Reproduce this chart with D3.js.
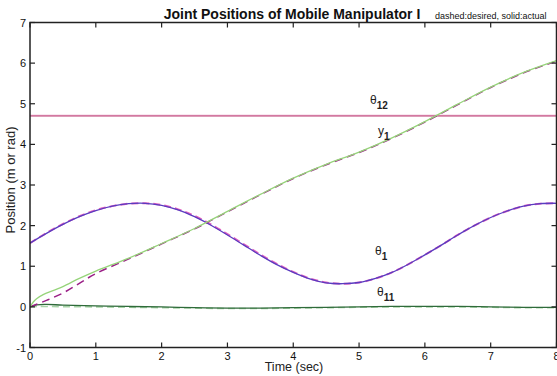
<!DOCTYPE html>
<html><head><meta charset="utf-8">
<script src="https://cdn.jsdelivr.net/npm/d3@7/dist/d3.min.js"></script>
<style>body{margin:0;background:#fff;}svg{display:block;font-family:"Liberation Sans",Arial,sans-serif;}</style>
</head><body>
<script>
const xTicks = [0,1,2,3,4,5,6,7,8];
const yTicks = [-1,0,1,2,3,4,5,6,7];

const tTheta1 = [0,0.25,0.5,0.75,1,1.25,1.5,1.75,2,2.25,2.5,2.75,3,3.25,3.5,3.75,4,4.25,4.5,4.75,5,5.25,5.5,5.75,6,6.25,6.5,6.75,7,7.25,7.5,7.75,8];
const theta1Des = [1.57,1.82,2.04,2.23,2.38,2.48,2.54,2.55,2.51,2.40,2.24,2.03,1.79,1.54,1.29,1.06,0.86,0.70,0.60,0.57,0.60,0.70,0.85,1.05,1.28,1.52,1.77,2.00,2.20,2.36,2.48,2.54,2.55];
const theta1Act = [1.57,1.81,2.03,2.22,2.37,2.48,2.54,2.55,2.50,2.39,2.22,2.01,1.77,1.52,1.27,1.04,0.85,0.69,0.59,0.57,0.60,0.70,0.85,1.05,1.28,1.52,1.77,2.00,2.20,2.36,2.48,2.54,2.55];

const tY1Des = [0,0.25,0.5,0.75,1,1.5,2,2.5,3,3.5,4,4.5,5,5.5,6,6.5,7,7.5,8];
const y1Des = [0,0.16,0.34,0.58,0.82,1.18,1.55,1.92,2.34,2.76,3.16,3.50,3.80,4.15,4.55,4.98,5.40,5.76,6.05];
const tY1Act = [0,0.05,0.1,0.2,0.35,0.5,0.75,1,1.5,2,2.5,3,3.5,4,4.5,5,5.5,6,6.5,7,7.5,8];
const y1Act = [0,0.12,0.2,0.3,0.4,0.5,0.7,0.88,1.2,1.56,1.93,2.35,2.77,3.17,3.51,3.81,4.16,4.56,4.99,5.41,5.77,6.06];

const tTheta11 = [0,0.1,0.25,0.5,1,1.5,2,2.5,3,3.5,4,4.5,5,5.5,6,6.5,7,7.5,8];
const theta11Act = [0,0.05,0.06,0.045,0.025,0.01,0,-0.02,-0.03,-0.03,-0.02,-0.01,0,0.01,0.01,0.01,0,-0.01,-0.01];
const theta11Des = [0,0.01,0.01,0.005,0,-0.01,-0.02,-0.03,-0.04,-0.04,-0.03,-0.02,-0.01,0,0,0,-0.01,-0.02,-0.02];

const tTheta12 = [0,8];
const theta12Des = [4.71,4.71];
const theta12Act = [4.70,4.70];

const W = 557, H = 376;
const svg = d3.select("body").append("svg").attr("width",W).attr("height",H);
const L = 30, R = 556.5, T = 22.5, B = 347.5;
const x = d3.scaleLinear().domain([0,8]).range([L,R]);
const y = d3.scaleLinear().domain([-1,7]).range([B,T]);

svg.append("defs").append("clipPath").attr("id","clip").append("rect")
  .attr("x",L).attr("y",T).attr("width",R-L).attr("height",B-T);

const g = svg.append("g").attr("clip-path","url(#clip)");
const line = (ts) => d3.line().x((d,i)=>x(ts[i])).y(d=>y(d)).curve(d3.curveCatmullRom);

function draw(ts, vals, color, width, dash){
  g.append("path").datum(vals).attr("d", line(ts)).attr("fill","none")
    .attr("stroke",color).attr("stroke-width",width)
    .attr("stroke-dasharray", dash || null);
}
draw(tTheta12, theta12Des, "#e6a0c4", 1.4, null);
draw(tTheta12, theta12Act, "#c0507e", 1.1, null);
draw(tTheta11, theta11Des, "#a8d4a8", 1.6, "7,4");
draw(tTheta11, theta11Act, "#2f6b3a", 1.3, null);
draw(tTheta1, theta1Des, "#e060c0", 2, "7,4");
draw(tTheta1, theta1Act, "#5a3cc0", 1.3, null);
draw(tY1Des, y1Des, "#9a1f86", 1.5, "8,5");
draw(tY1Act, y1Act, "#96d47a", 1.3, null);

const ax = svg.append("g").attr("stroke","#222").attr("fill","none");
ax.append("rect").attr("x",L).attr("y",T).attr("width",R-L).attr("height",B-T).attr("stroke-width",1.5);
const tl = 5;
xTicks.forEach(v=>{
  ax.append("line").attr("x1",x(v)).attr("x2",x(v)).attr("y1",B).attr("y2",B-tl);
  ax.append("line").attr("x1",x(v)).attr("x2",x(v)).attr("y1",T).attr("y2",T+tl);
});
yTicks.forEach(v=>{
  ax.append("line").attr("x1",L).attr("x2",L+tl).attr("y1",y(v)).attr("y2",y(v));
  ax.append("line").attr("x1",R).attr("x2",R-tl).attr("y1",y(v)).attr("y2",y(v));
});
ax.selectAll("line").attr("stroke-width",1.2);

const lab = svg.append("g").attr("fill","#111").attr("font-size","11px");
xTicks.forEach(v=>{
  lab.append("text").attr("x",x(v)).attr("y",B+12).attr("text-anchor","middle").text(v);
});
yTicks.forEach(v=>{
  lab.append("text").attr("x",L-4).attr("y",y(v)+4).attr("text-anchor","end").text(v);
});

svg.append("text").attr("x",294).attr("y",371).attr("text-anchor","middle")
  .attr("font-size","12.5px").attr("fill","#222").text("Time (sec)");
svg.append("text").attr("transform","translate(15,180) rotate(-90)").attr("text-anchor","middle")
  .attr("font-size","13px").attr("fill","#222").text("Position (m or rad)");

svg.append("text").attr("x",292).attr("y",19).attr("text-anchor","middle")
  .attr("font-size","14px").attr("font-weight","bold").attr("fill","#111")
  .text("Joint Positions of Mobile Manipulator I");
svg.append("text").attr("x",435).attr("y",19).attr("font-size","9px").attr("fill","#111")
  .text("dashed:desired, solid:actual");

function curveLabel(px, py, main, sub){
  const t = svg.append("text").attr("x",px).attr("y",py).attr("font-size","12px").attr("fill","#222");
  t.append("tspan").text(main);
  t.append("tspan").attr("dy",5).attr("font-size","10px").attr("font-weight","bold").text(sub);
}
curveLabel(370, 104, "θ", "12");
curveLabel(378, 135, "y", "1");
curveLabel(375, 255, "θ", "1");
curveLabel(377, 296, "θ", "11");
</script>
</body></html>
